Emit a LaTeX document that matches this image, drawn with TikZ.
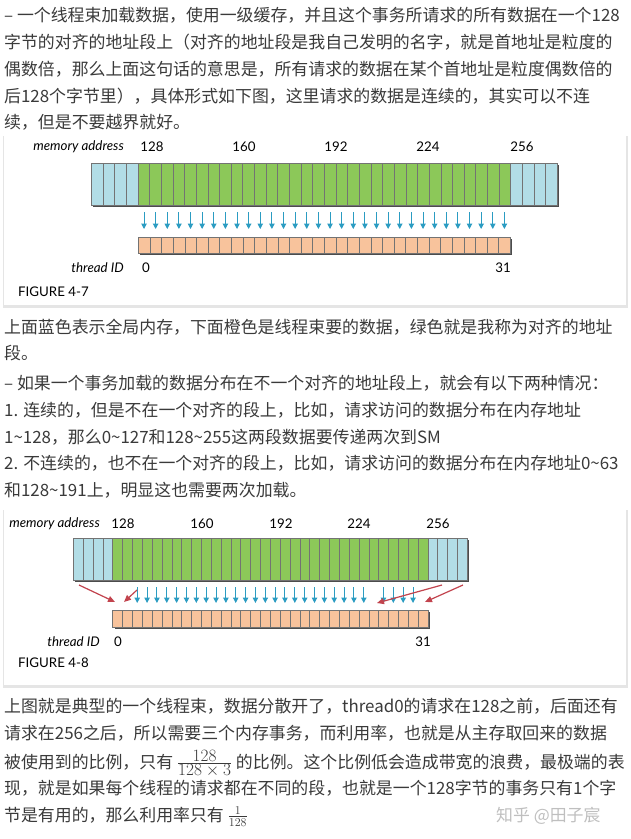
\documentclass[tikz,border=0pt]{standalone}
\usepackage{fontspec}
\setmainfont{Noto Sans CJK SC}
\newfontfamily\figfont{Lato}
\usetikzlibrary{arrows.meta}
\definecolor{txt}{HTML}{3A3A3A}
\definecolor{memblue}{HTML}{B2DDE6}
\definecolor{memgreen}{HTML}{8CC859}
\definecolor{throrange}{HTML}{F8C39C}
\definecolor{arrblue}{HTML}{2B9CC2}
\definecolor{arrred}{HTML}{C2434D}
\tikzset{
    line/.style={anchor=base west, inner sep=0, text=txt, font=\fontsize{16.9}{20}\selectfont},
    lbl/.style={inner sep=0, font=\figfont\fontsize{13.3}{16}\selectfont},
    cell/.style={draw=black!55, line width=0.4pt, inner sep=0, anchor=north west},
    be/.style={draw=arrblue, line width=1pt, -{Triangle[width=5.5pt,length=5.5pt]}}, % blue transfer
    re/.style={draw=arrred, line width=1.2pt, -{Triangle[width=6pt,length=7pt]}} % stray transfer
}
\begin{document}
\begin{tikzpicture}[x=1pt, y=-1pt]
  \useasboundingbox[fill=white] (0,0) rectangle (630,839);
  % text above
  \node[line] (p1) at (4,21) {– 一个线程束加载数据，使用一级缓存，并且这个事务所请求的所有数据在一个128};
  \node[line] (p2) at (4,48) {字节的对齐的地址段上（对齐的地址段是我自己发明的名字，就是首地址是粒度的};
  \node[line] (p3) at (4,75) {偶数倍，那么上面这句话的意思是，所有请求的数据在某个首地址是粒度偶数倍的};
  \node[line] (p4) at (4,102) {后128个字节里），具体形式如下图，这里请求的数据是连续的，其实可以不连};
  \node[line] (p5) at (4,128) {续，但是不要越界就好。};

  % figure 4-7
  \fill[black!10] (3,136) rectangle (628,308);
  \fill[white] (4,136) rectangle (626,305);
  \node[lbl, anchor=east] (ma1) at (124,147) {\itshape memory address};
  \node[lbl] (a1x) at (152,147) {128};
  \node[lbl] (a1y) at (244,147) {160};
  \node[lbl] (a1z) at (336,147) {192};
  \node[lbl] (a1w) at (428,147) {224};
  \node[lbl] (a1v) at (522,147) {256};
  \fill[black!70] (93,165) rectangle (559,207);
  \foreach \i in {0,...,39}{
    \pgfmathsetmacro{\c}{(\i<4 || \i>35) ? "memblue" : "memgreen"}
    \node[cell, fill=\c, minimum width=11.65pt, minimum height=42pt] (memA\i) at ({91+11.65*\i},163) {};
  }
  \fill[black!70] (140,239) rectangle (512,255);
  \foreach \i in {0,...,31}{
    \node[cell, fill=throrange, minimum width=11.625pt, minimum height=16pt] (thrA\i) at ({138+11.625*\i},237) {};
    \pgfmathtruncatemacro{\m}{\i+4}
    \draw[be, shorten <=7pt, shorten >=8pt] (thrA\i.north |- memA\m.south) -- (thrA\i.north);
  }
  \node[lbl, anchor=east] (tid1) at (124,268) {\itshape thread ID};
  \node[lbl] (t1a) at (146,268) {0};
  \node[lbl] (t1b) at (503,268) {31};
  \node[lbl, anchor=west] (fig1) at (18,292) {FIGURE 4-7};

  % text between
  \node[line] (q1) at (4,333) {上面蓝色表示全局内存，下面橙色是线程束要的数据，绿色就是我称为对齐的地址};
  \node[line] (q2) at (4,359) {段。};
  \node[line] (q3) at (4,389) {– 如果一个事务加载的数据分布在不一个对齐的地址段上，就会有以下两种情况：};
  \node[line] (q4) at (4,416) {1. 连续的，但是不在一个对齐的段上，比如，请求访问的数据分布在内存地址};
  \node[line] (q5) at (4,443) {1\textasciitilde128，那么0\textasciitilde127和128\textasciitilde255这两段数据要传递两次到SM};
  \node[line] (q6) at (4,469) {2. 不连续的，也不在一个对齐的段上，比如，请求访问的数据分布在内存地址0\textasciitilde63};
  \node[line] (q7) at (4,496) {和128\textasciitilde191上，明显这也需要两次加载。};

  % figure 4-8
  \fill[black!10] (3,510) rectangle (628,688);
  \fill[white] (4,510) rectangle (626,685);
  \node[lbl, anchor=east] (ma2) at (100,524) {\itshape memory address};
  \node[lbl] (a2x) at (123,524) {128};
  \node[lbl] (a2y) at (202,524) {160};
  \node[lbl] (a2z) at (281,524) {192};
  \node[lbl] (a2w) at (359,524) {224};
  \node[lbl] (a2v) at (438,524) {256};
  \fill[black!70] (75,540) rectangle (469,582);
  \foreach \i in {0,...,39}{
    \pgfmathsetmacro{\c}{(\i<4 || \i>35) ? "memblue" : "memgreen"}
    \node[cell, fill=\c, minimum width=9.85pt, minimum height=42pt] (memB\i) at ({73+9.85*\i},538) {};
  }
  \fill[black!70] (115,612) rectangle (430,629);
  \foreach \i in {0,...,31}{
    \node[cell, fill=throrange, minimum width=9.85pt, minimum height=17pt] (thrB\i) at ({112.4+9.85*\i},610) {};
  }
  \foreach \i in {2,...,25,27,28,29,30}{
    \pgfmathtruncatemacro{\m}{\i+4}
    \draw[be, shorten <=7pt, shorten >=7pt] (thrB\i.north |- memB\m.south) -- (thrB\i.north);
  }
  \coordinate (r1s) at (79,585);  \coordinate (r1e) at (115,602);
  \coordinate (r2s) at (137,590); \coordinate (r2e) at (124,602);
  \coordinate (r3s) at (442,585); \coordinate (r3e) at (377,603);
  \coordinate (r4s) at (463,585); \coordinate (r4e) at (425,602);
  \draw[re] (r1s) -- (r1e);
  \draw[re] (r2s) -- (r2e);
  \draw[re] (r3s) -- (r3e);
  \draw[re] (r4s) -- (r4e);
  \node[lbl, anchor=east] (tid2) at (100,642) {\itshape thread ID};
  \node[lbl] (t2a) at (118,642) {0};
  \node[lbl] (t2b) at (423,642) {31};
  \node[lbl, anchor=west] (fig2) at (18,663) {FIGURE 4-8};

  % text below
  \node[line] (s1) at (4,712) {上图就是典型的一个线程束，数据分散开了，thread0的请求在128之前，后面还有};
  \node[line] (s2) at (4,739) {请求在256之后，所以需要三个内存事务，而利用率，也就是从主存取回来的数据};
  \node[line] (s3) at (4,768) {被使用到的比例，只有 $\frac{\textstyle 128}{\textstyle 128\times3}$ 的比例。这个比例低会造成带宽的浪费，最极端的表};
  \node[line] (s4) at (4,794) {现，就是如果每个线程的请求都在不同的段，也就是一个128字节的事务只有1个字};
  \node[line] (s5) at (4,821) {节是有用的，那么利用率只有 $\frac{1}{128}$};
  \node[line, text=black!25] (wm) at (496,821) {知乎 @田子宸};
\end{tikzpicture}
\end{document}
